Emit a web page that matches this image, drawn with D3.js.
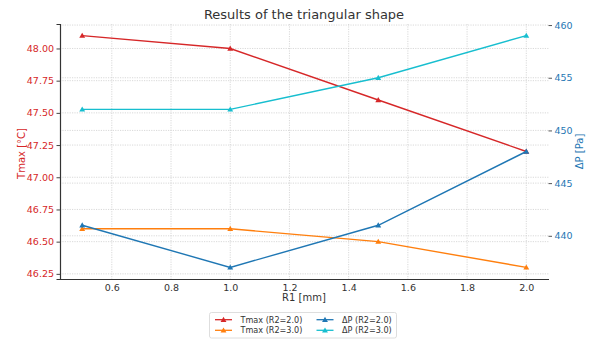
<!DOCTYPE html>
<html>
<head>
<meta charset="utf-8">
<script src="https://cdn.jsdelivr.net/npm/d3@7"></script>
<style>
  html, body { margin: 0; padding: 0; background: #fff; }
  svg { display: block; font-family: "DejaVu Sans", sans-serif; }
</style>
</head>
<body>
<svg id="chart" width="591" height="340"></svg>
<script>
// R1 values on the x axis [mm]
const r1 = [0.5, 1.0, 1.5, 2.0];
// Maximum temperature [°C]
const tmaxR2_2 = [48.1, 48.0, 47.6, 47.2];
const tmaxR2_3 = [46.6, 46.6, 46.5, 46.3];
// Pressure drop [Pa]
const dpR2_2 = [441, 437, 441, 448];
const dpR2_3 = [452, 452, 455, 459];
// Tick values
const xTicks = [0.6, 0.8, 1.0, 1.2, 1.4, 1.6, 1.8, 2.0];
const tTicks = [46.25, 46.5, 46.75, 47.0, 47.25, 47.5, 47.75, 48.0];
const pTicks = [440, 445, 450, 455, 460];

const C = { red: "#d62728", orange: "#ff7f0e", blue: "#1f77b4", cyan: "#17becf" };

const svg = d3.select("#chart");
const m = { left: 60, right: 548.5, top: 24, bottom: 279 };

// padded domains (5% margin around data)
function padded(vals) {
  const lo = d3.min(vals), hi = d3.max(vals), p = (hi - lo) * 0.05;
  return [lo - p, hi + p];
}
const x = d3.scaleLinear().domain(padded(r1)).range([m.left, m.right]);
const yT = d3.scaleLinear().domain(padded(tmaxR2_2.concat(tmaxR2_3))).range([m.bottom, m.top]);
const yP = d3.scaleLinear().domain(padded(dpR2_2.concat(dpR2_3))).range([m.bottom, m.top]);

// grid
const grid = svg.append("g").attr("stroke", "#c8c8c8").attr("stroke-width", 0.7)
  .attr("stroke-dasharray", "1.2,1.2");
xTicks.forEach(v => grid.append("line").attr("x1", x(v)).attr("x2", x(v)).attr("y1", m.top).attr("y2", m.bottom));
tTicks.forEach(v => grid.append("line").attr("x1", m.left).attr("x2", m.right).attr("y1", yT(v)).attr("y2", yT(v)));
pTicks.forEach(v => grid.append("line").attr("x1", m.left).attr("x2", m.right).attr("y1", yP(v)).attr("y2", yP(v)));

// series
const tri = d3.symbol().type(d3.symbolTriangle).size(15);
function series(vals, yScale, color) {
  const pts = r1.map((r, i) => [r, vals[i]]);
  const line = d3.line().x(d => x(d[0])).y(d => yScale(d[1]));
  svg.append("path").datum(pts).attr("d", line).attr("fill", "none")
    .attr("stroke", color).attr("stroke-width", 1.4);
  svg.append("g").selectAll("path").data(pts).join("path")
    .attr("d", tri).attr("fill", color)
    .attr("transform", d => `translate(${x(d[0])},${yScale(d[1]) + 0.5})`);
}
series(tmaxR2_2, yT, C.red);
series(tmaxR2_3, yT, C.orange);
series(dpR2_2, yP, C.blue);
series(dpR2_3, yP, C.cyan);

// axes
const xAxis = svg.append("g").attr("transform", `translate(0,${m.bottom})`)
  .call(d3.axisBottom(x).tickValues(xTicks).tickFormat(d3.format(".1f")).tickSize(0).tickPadding(5));
xAxis.select(".domain").attr("stroke", "#333").attr("stroke-width", 1.2);
xAxis.selectAll("text").attr("fill", "#333").attr("font-size", 9.5).attr("font-family", "DejaVu Sans");

const lAxis = svg.append("g").attr("transform", `translate(${m.left},0)`)
  .call(d3.axisLeft(yT).tickValues(tTicks).tickFormat(d3.format(".2f")).tickSize(3.5).tickPadding(2.5));
lAxis.select(".domain").attr("stroke", "#333").attr("stroke-width", 1.2);
lAxis.selectAll(".tick line").attr("stroke", "#444");
lAxis.selectAll("text").attr("fill", C.red).attr("font-size", 9.5).attr("font-family", "DejaVu Sans");

const rAxis = svg.append("g").attr("transform", `translate(${m.right},0)`)
  .call(d3.axisRight(yP).tickValues(pTicks).tickFormat(d3.format("d")).tickSize(3.5).tickPadding(2.5));
rAxis.select(".domain").remove();
rAxis.selectAll(".tick line").attr("stroke", "#555");
rAxis.selectAll("text").attr("fill", C.blue).attr("font-size", 9.5).attr("font-family", "DejaVu Sans");

// titles and labels
svg.append("text").attr("x", 304).attr("y", 18.5).attr("text-anchor", "middle")
  .attr("font-size", 13).attr("fill", "#333").text("Results of the triangular shape");
svg.append("text").attr("x", 304).attr("y", 301).attr("text-anchor", "middle")
  .attr("font-size", 10).attr("fill", "#333").text("R1 [mm]");
svg.append("text").attr("transform", `translate(24.5,${(m.top + m.bottom) / 2 + 2}) rotate(-90)`)
  .attr("text-anchor", "middle").attr("font-size", 10).attr("fill", C.red).text("Tmax [°C]");
svg.append("text").attr("transform", `translate(582.5,${(m.top + m.bottom) / 2}) rotate(-90)`)
  .attr("text-anchor", "middle").attr("font-size", 10).attr("fill", C.blue).text("ΔP [Pa]");

// legend
const legendItems = [
  { label: "Tmax (R2=2.0)", color: C.red, col: 0, row: 0 },
  { label: "Tmax (R2=3.0)", color: C.orange, col: 0, row: 1 },
  { label: "ΔP (R2=2.0)", color: C.blue, col: 1, row: 0 },
  { label: "ΔP (R2=3.0)", color: C.cyan, col: 1, row: 1 }
];
const lg = svg.append("g");
lg.append("rect").attr("x", 209.5).attr("y", 312.5).attr("width", 187).attr("height", 25.5)
  .attr("rx", 2).attr("fill", "#fff").attr("stroke", "#d6d6d6").attr("stroke-width", 0.8);
const colX = [215, 316.5], rowY = [319.7, 330.3];
legendItems.forEach(it => {
  const x0 = colX[it.col], y0 = rowY[it.row];
  lg.append("line").attr("x1", x0).attr("x2", x0 + 17).attr("y1", y0).attr("y2", y0)
    .attr("stroke", it.color).attr("stroke-width", 1.3);
  lg.append("path").attr("d", tri).attr("fill", it.color)
    .attr("transform", `translate(${x0 + 8.5},${y0 + 0.5})`);
  lg.append("text").attr("x", x0 + 25.5).attr("y", y0 + 3).attr("font-size", 8.1)
    .attr("fill", "#333").text(it.label);
});
</script>
</body>
</html>
